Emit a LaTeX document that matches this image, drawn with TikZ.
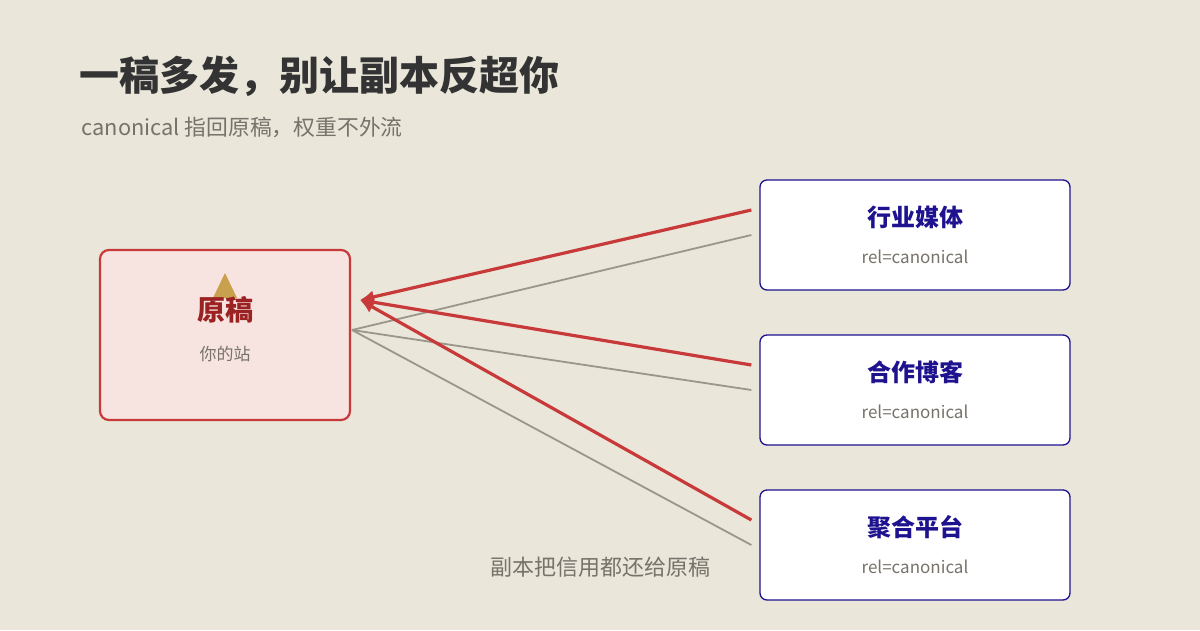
\documentclass[tikz,border=0pt]{standalone}
\usepackage{fontspec}
\setmainfont{Noto Sans CJK SC}
\usetikzlibrary{positioning}
\usetikzlibrary{arrows.meta}
\definecolor{bgbeige}{HTML}{EAE6DA}
\definecolor{srcred}{HTML}{C8393A}
\definecolor{srcfill}{HTML}{F7E4E0}
\definecolor{srcdark}{HTML}{9B2222}
\definecolor{navy}{HTML}{1E128F}
\definecolor{inkgray}{HTML}{77726A}
\definecolor{linegray}{HTML}{9A968A}
\definecolor{gold}{HTML}{C9A04E}
\tikzset{
  copybox/.style={draw=navy, line width=1.3pt, fill=white, rounded corners=7pt,
    minimum width=310pt, minimum height=110pt, inner sep=0pt},
  origbox/.style={draw=srcred, line width=2.2pt, fill=srcfill, rounded corners=9pt,
    minimum width=250pt, minimum height=170pt, inner sep=0pt},
  backlink/.style={draw=srcred, line width=3.2pt, -{Latex[length=14pt,width=13pt]}},
  dupline/.style={draw=linegray, line width=1.8pt}
}
\newcommand{\copylabel}[3]{%
  \node[copybox] (#1) at #2 {};
  \node[font=\fontsize{24}{24}\selectfont\bfseries, text=navy] at ([yshift=-38pt]#1.north) {#3};
  \node[font=\fontsize{17}{17}\selectfont, text=inkgray] at ([yshift=-77pt]#1.north) {rel=canonical};}
\begin{document}
\begin{tikzpicture}[x=1pt,y=-1pt]
\fill[bgbeige] (0,0) rectangle (1200,630);
\useasboundingbox (0,0) rectangle (1200,630);

\node[anchor=west, font=\fontsize{40}{40}\selectfont\bfseries, text=black!80] (title) at (76,76) {一稿多发，别让副本反超你};
\node[anchor=west, font=\fontsize{21.8}{22}\selectfont, text=inkgray] (sub) at (78,127) {canonical 指回原稿，权重不外流};

\node[origbox] (orig) at (225,335) {};
\fill[gold] (225,273) -- (237,298) -- (213,298) -- cycle;
\node[font=\fontsize{28}{28}\selectfont\bfseries, text=srcdark] (origname) at (225,310) {原稿};
\node[font=\fontsize{17}{17}\selectfont, text=inkgray] (origsite) at (225,354) {你的站};

\copylabel{media}{(915,235)}{行业媒体}
\copylabel{blog}{(915,390)}{合作博客}
\copylabel{plat}{(915,545)}{聚合平台}

\coordinate (fork) at (352,330);
\coordinate (tip) at (360,300);
\foreach \b in {media, blog, plat}{
  \draw[dupline] (fork) -- ([xshift=-8pt]\b.west);
  \draw[backlink] ([xshift=-8pt,yshift=25pt]\b.west) -- (tip);
}

\node[font=\fontsize{22}{22}\selectfont, text=inkgray] (note) at (600,567) {副本把信用都还给原稿};
\end{tikzpicture}
\end{document}
